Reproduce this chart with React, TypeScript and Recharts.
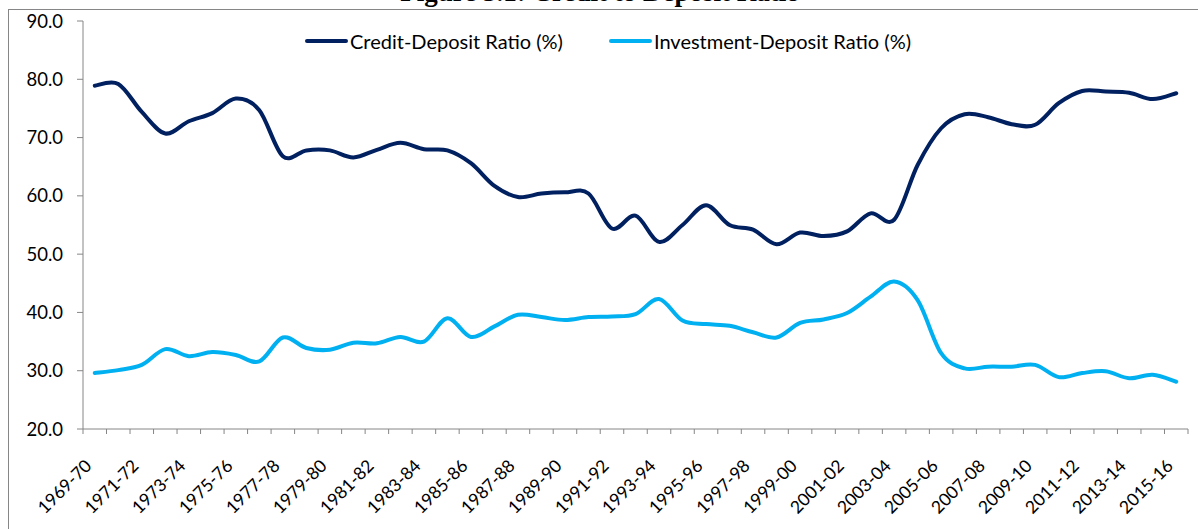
import React from 'react'
import { LineChart, Line, XAxis, YAxis } from 'recharts'

const years = [
  '1969-70', '1970-71', '1971-72', '1972-73', '1973-74', '1974-75', '1975-76', '1976-77',
  '1977-78', '1978-79', '1979-80', '1980-81', '1981-82', '1982-83', '1983-84', '1984-85',
  '1985-86', '1986-87', '1987-88', '1988-89', '1989-90', '1990-91', '1991-92', '1992-93',
  '1993-94', '1994-95', '1995-96', '1996-97', '1997-98', '1998-99', '1999-00', '2000-01',
  '2001-02', '2002-03', '2003-04', '2004-05', '2005-06', '2006-07', '2007-08', '2008-09',
  '2009-10', '2010-11', '2011-12', '2012-13', '2013-14', '2014-15', '2015-16',
]

const creditDeposit = [
  78.9, 79.2, 74.4, 70.7, 72.8, 74.2, 76.7, 74.7, 66.8, 67.8, 67.8, 66.6, 67.9, 69.1, 68.0, 67.8,
  65.6, 61.7, 59.8, 60.4, 60.6, 60.4, 54.4, 56.6, 52.1, 55.0, 58.4, 55.0, 54.2, 51.7, 53.7, 53.1,
  53.9, 57.0, 55.9, 65.3, 71.6, 74.0, 73.5, 72.3, 72.2, 75.9, 78.0, 77.9, 77.7, 76.6, 77.6,
]

const investmentDeposit = [
  29.6, 30.1, 31.0, 33.7, 32.5, 33.2, 32.7, 31.6, 35.7, 33.9, 33.6, 34.8, 34.7, 35.8, 35.0, 39.0,
  35.8, 37.6, 39.6, 39.2, 38.7, 39.2, 39.3, 39.7, 42.3, 38.6, 38.0, 37.7, 36.6, 35.7, 38.2, 38.8,
  39.9, 42.7, 45.3, 42.1, 33.0, 30.4, 30.7, 30.7, 31.0, 28.9, 29.6, 29.9, 28.7, 29.3, 28.1,
]

const yTicks = [20, 30, 40, 50, 60, 70, 80, 90]

const data = years.map((year, i) => ({
  year,
  credit: creditDeposit[i],
  investment: investmentDeposit[i],
}))

const AXIS = '#868686'
const NAVY = '#002060'
const CYAN = '#00B0F0'
const FONT = 'Lato, sans-serif'
const HALF_BAND = 1105 / years.length / 2

// Excel style smoothed line (uniform Catmull-Rom through every point)
const excelSmooth = (context: any) => {
  let xs: number[] = []
  let ys: number[] = []
  return {
    areaStart() {},
    areaEnd() {},
    lineStart() {
      xs = []
      ys = []
    },
    point(x: number, y: number) {
      xs.push(+x)
      ys.push(+y)
    },
    lineEnd() {
      const n = xs.length
      if (!n) return
      context.moveTo(xs[0], ys[0])
      for (let i = 0; i < n - 1; i++) {
        const p0 = Math.max(i - 1, 0)
        const p3 = Math.min(i + 2, n - 1)
        context.bezierCurveTo(
          xs[i] + (xs[i + 1] - xs[p0]) / 6,
          ys[i] + (ys[i + 1] - ys[p0]) / 6,
          xs[i + 1] - (xs[p3] - xs[i]) / 6,
          ys[i + 1] - (ys[p3] - ys[i]) / 6,
          xs[i + 1],
          ys[i + 1],
        )
      }
    },
  }
}

const YearTick = (props: any) => {
  const { x, y, index } = props
  const last = index === years.length - 1
  return (
    <g>
      <line x1={x - HALF_BAND} x2={x - HALF_BAND} y1={y} y2={y + 5} stroke={AXIS} />
      {last && <line x1={x + HALF_BAND} x2={x + HALF_BAND} y1={y} y2={y + 5} stroke={AXIS} />}
      {index % 2 === 0 && (
        <text
          x={x - 2}
          y={y + 38}
          transform={`rotate(-45, ${x - 2}, ${y + 38})`}
          textAnchor="end"
          fontFamily={FONT}
          fontSize={17.5}
          fill="#000"
        >
          {props.payload.value}
        </text>
      )}
    </g>
  )
}

const LegendItem = ({ color, label }: { color: string; label: string }) => (
  <div style={{ display: 'flex', alignItems: 'center' }}>
    <div style={{ width: 43, height: 4, borderRadius: 2, background: color, marginRight: 2 }} />
    <span>{label}</span>
  </div>
)

export default function App() {
  return (
    <div style={{ position: 'absolute', left: 0, top: 0, width: 1198, height: 529, overflow: 'hidden', background: '#fff' }}>
      <svg width={1198} height={9} style={{ position: 'absolute', left: 0, top: 0 }}>
        <text x={600} y={1} textAnchor="middle" fontFamily="'Liberation Serif', serif" fontWeight="bold" fontSize={27}>
          Figure 5.1: Credit to Deposit Ratio
        </text>
      </svg>
      <div
        style={{
          position: 'absolute',
          left: 8,
          top: 9,
          width: 1300,
          height: 600,
          border: `1px solid ${AXIS}`,
        }}
      />
      <div
        style={{
          position: 'absolute',
          left: 305,
          top: 28,
          display: 'flex',
          gap: 46,
          fontFamily: FONT,
          fontSize: 20,
          lineHeight: '26px',
          color: '#000',
        }}
      >
        <LegendItem color={NAVY} label="Credit-Deposit Ratio (%)" />
        <LegendItem color={CYAN} label="Investment-Deposit Ratio (%)" />
      </div>
      <div style={{ position: 'absolute', left: 0, top: 0 }}>
        <LineChart width={1198} height={529} data={data} margin={{ top: 21, right: 10, bottom: 70, left: 33 }}>
          <XAxis
            dataKey="year"
            interval={0}
            height={30}
            padding={{ left: HALF_BAND, right: HALF_BAND }}
            axisLine={{ stroke: AXIS }}
            tickLine={false}
            tickSize={0}
            tickMargin={0}
            tick={<YearTick />}
          />
          <YAxis
            width={50}
            domain={[20, 90]}
            ticks={yTicks}
            interval={0}
            axisLine={{ stroke: AXIS }}
            tickLine={{ stroke: AXIS }}
            tickSize={6}
            tickMargin={14}
            tickFormatter={(v: number) => v.toFixed(1)}
            tick={{ fill: '#000', fontSize: 18.5, fontFamily: FONT }}
          />
          <Line
            type={excelSmooth as any}
            dataKey="credit"
            stroke={NAVY}
            strokeWidth={4}
            strokeLinecap="round"
            dot={false}
            isAnimationActive={false}
          />
          <Line
            type={excelSmooth as any}
            dataKey="investment"
            stroke={CYAN}
            strokeWidth={4}
            strokeLinecap="round"
            dot={false}
            isAnimationActive={false}
          />
        </LineChart>
      </div>
    </div>
  )
}
